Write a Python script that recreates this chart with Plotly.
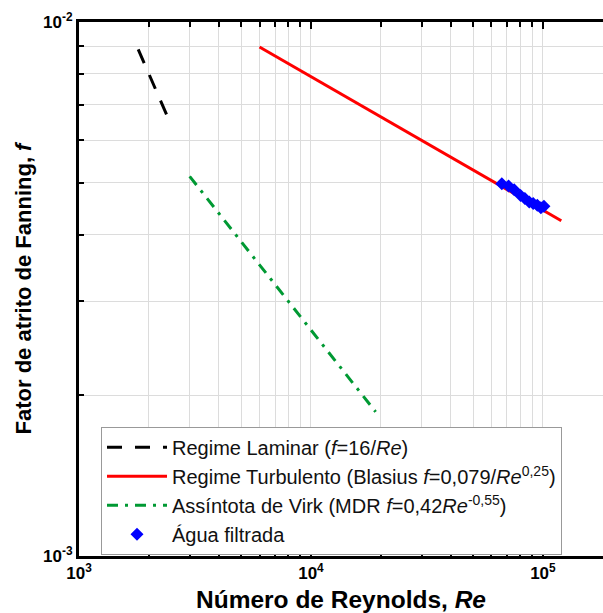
import numpy as np
import plotly.graph_objects as go

# Reynolds-number ranges for the correlation curves
re_laminar = [1800, 2450]
re_blasius = [6000, 120000]
re_virk = [3000, 19000]

# Measured friction factors, filtered water
re_agua = [66500, 71100, 75200, 80100, 83600, 87300, 90800, 94600, 98000, 101000]
f_agua = [0.00498, 0.00493, 0.00485, 0.00473, 0.00467, 0.00460, 0.00457, 0.00454, 0.00449, 0.00452]

x_ticks = [1e3, 1e4, 1e5]
x_ticktext = ["10<sup>3</sup>", "10<sup>4</sup>", "10<sup>5</sup>"]
y_ticks = [1e-3, 1e-2]
y_ticktext = ["10<sup>-3</sup>", "10<sup>-2</sup>"]


def curve(re_range, fn, n=60):
    re = np.logspace(np.log10(re_range[0]), np.log10(re_range[1]), n)
    return re, fn(re)


x_lam, y_lam = curve(re_laminar, lambda r: 16.0 / r)
x_bla, y_bla = curve(re_blasius, lambda r: 0.079 / r ** 0.25)
x_vir, y_vir = curve(re_virk, lambda r: 0.42 * r ** -0.55)

FONT = "Arial, 'Liberation Sans', sans-serif"

fig = go.Figure()
fig.add_trace(go.Scatter(
    x=x_lam, y=y_lam, mode="lines",
    line=dict(color="black", width=3, dash="15px,13px"),
    name="Regime Laminar (<i>f</i>=16/<i>Re</i>)"))
fig.add_trace(go.Scatter(
    x=x_bla, y=y_bla, mode="lines",
    line=dict(color="#ff0000", width=3),
    name="Regime Turbulento (Blasius <i>f</i>=0,079/<i>Re</i><sup>0,25</sup>)"))
fig.add_trace(go.Scatter(
    x=x_vir, y=y_vir, mode="lines",
    line=dict(color="#009933", width=3, dash="11px,7px,3px,7px"),
    name="Assíntota de Virk (MDR <i>f</i>=0,42<i>Re</i><sup>-0,55</sup>)"))
fig.add_trace(go.Scatter(
    x=re_agua, y=f_agua, mode="markers",
    marker=dict(symbol="diamond", color="#0000ff", size=10),
    name="Água filtrada"))

minor_x = [m * 10 ** e for e in (3, 4, 5) for m in range(2, 10)]
minor_y = [m * 10 ** -3 for m in range(2, 10)]

fig.update_layout(
    width=603, height=613,
    margin=dict(l=79, r=0, t=22, b=57),
    plot_bgcolor="white", paper_bgcolor="white",
    font=dict(family=FONT, color="black"),
    showlegend=True,
    legend=dict(
        x=0.042, y=0.242, xanchor="left", yanchor="top",
        bgcolor="white", bordercolor="#999999", borderwidth=1,
        font=dict(family=FONT, size=20, color="#111111"),
        itemwidth=60, tracegroupgap=0,
    ),
    xaxis=dict(
        type="log", range=[3, 5.259],
        tickvals=x_ticks, ticktext=x_ticktext,
        tickfont=dict(family=FONT, size=17, weight="bold"),
        ticks="inside", ticklen=7, tickwidth=2, tickcolor="black",
        showline=True, linewidth=3, linecolor="black", mirror="ticks",
        showgrid=True, gridcolor="#dcdcdc", gridwidth=1,
        minor=dict(tickvals=minor_x, ticks="inside", ticklen=5, tickwidth=2,
                   tickcolor="black", showgrid=True, gridcolor="#dcdcdc", gridwidth=1),
        title=dict(text="Número de Reynolds, <i>Re</i>",
                   font=dict(family=FONT, size=24.5, weight="bold"), standoff=9),
        zeroline=False,
    ),
    yaxis=dict(
        type="log", range=[-3, -2],
        tickvals=y_ticks, ticktext=y_ticktext,
        tickfont=dict(family=FONT, size=17, weight="bold"),
        ticks="inside", ticklen=7, tickwidth=2, tickcolor="black",
        showline=True, linewidth=3, linecolor="black", mirror=False,
        showgrid=True, gridcolor="#dcdcdc", gridwidth=1,
        minor=dict(tickvals=minor_y, ticks="inside", ticklen=5, tickwidth=2,
                   tickcolor="black", showgrid=True, gridcolor="#dcdcdc", gridwidth=1),
        title=dict(text="Fator de atrito de Fanning, <i>f</i>",
                   font=dict(family=FONT, size=22, weight="bold"), standoff=6),
        zeroline=False,
    ),
)

fig.write_html("out.html")
